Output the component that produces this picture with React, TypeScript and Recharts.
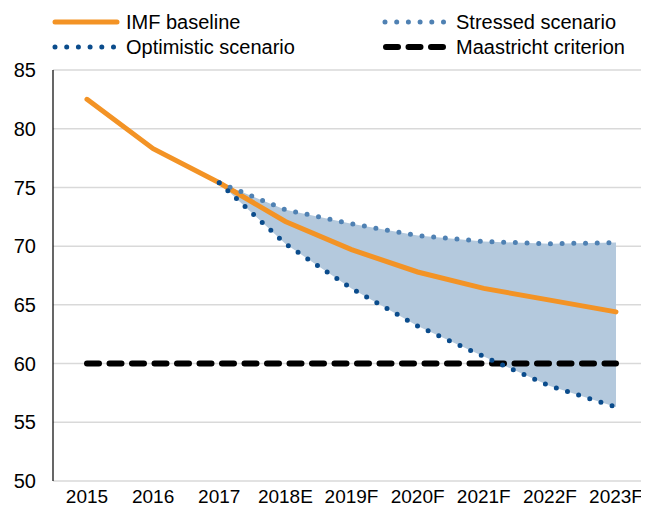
import React from "react";
import {
  ComposedChart,
  Line,
  Area,
  XAxis,
  YAxis,
  CartesianGrid,
} from "recharts";

const categories = ["2015", "2016", "2017", "2018E", "2019F", "2020F", "2021F", "2022F", "2023F"];
const imfBaseline = [82.5, 78.3, 75.4, 72.1, 69.7, 67.8, 66.4, 65.4, 64.4];
const stressed = [null, null, 75.4, 73.1, 71.9, 70.9, 70.4, 70.2, 70.3];
const optimistic = [null, null, 75.4, 70.2, 66.4, 63.2, 60.6, 58.1, 56.3];
const maastricht = [60, 60, 60, 60, 60, 60, 60, 60, 60];
const yTicks = [50, 55, 60, 65, 70, 75, 80, 85];

const legendItems = [
  { name: "IMF baseline", kind: "imf" },
  { name: "Stressed scenario", kind: "stressed" },
  { name: "Optimistic scenario", kind: "optimistic" },
  { name: "Maastricht criterion", kind: "maastricht" },
];

const data = categories.map((c, i) => ({
  cat: c,
  imf: imfBaseline[i],
  stressed: stressed[i],
  optimistic: optimistic[i],
  maastricht: maastricht[i],
  band:
    stressed[i] != null && optimistic[i] != null
      ? [optimistic[i], stressed[i]]
      : null,
}));

const ORANGE = "#F39325";
const STRESS = "#4F81B3";
const OPT = "#0B4C8C";
const FILL = "#B4C9DD";
const FONT = "'Liberation Sans', Arial, sans-serif";

function LegendSample({ kind }: { kind: string }) {
  if (kind === "imf")
    return <line x1={3} y1={8} x2={65} y2={8} stroke={ORANGE} strokeWidth={5} strokeLinecap="round" />;
  if (kind === "stressed")
    return <line x1={3} y1={8} x2={62} y2={8} stroke={STRESS} strokeWidth={5} strokeLinecap="round" strokeDasharray="0 11.7" />;
  if (kind === "optimistic")
    return <line x1={3} y1={8} x2={62} y2={8} stroke={OPT} strokeWidth={5} strokeLinecap="round" strokeDasharray="0 11.7" />;
  return <line x1={4} y1={8} x2={64} y2={8} stroke="#000" strokeWidth={6} strokeLinecap="round" strokeDasharray="12 10.5" />;
}

function TopLegend() {
  const pos = [
    { x: 44, y: 14 },
    { x: 374, y: 14 },
    { x: 44, y: 39 },
    { x: 374, y: 39 },
  ];
  return (
    <div style={{ position: "absolute", left: 0, top: 0, width: 641, height: 60, pointerEvents: "none" }}>
      {legendItems.map((it, i) => (
        <div
          key={it.name}
          style={{
            position: "absolute",
            left: pos[i].x,
            top: pos[i].y - 8,
            display: "flex",
            alignItems: "center",
            fontFamily: FONT,
            fontSize: 20,
            color: "#000",
            lineHeight: "16px",
            whiteSpace: "nowrap",
          }}
        >
          <svg width={70} height={16} style={{ marginRight: 4 }}>
            <LegendSample kind={it.kind} />
          </svg>
          <span>{it.name}</span>
        </div>
      ))}
    </div>
  );
}

export default function App() {
  return (
    <div style={{ position: "relative", width: 641, height: 500 }}>
      <ComposedChart
        width={641}
        height={500}
        data={data}
        margin={{ top: 62, right: 0, bottom: 0, left: 0 }}
      >
        <CartesianGrid vertical={false} stroke="#D9D9D9" strokeWidth={1.5} />
        <XAxis
          dataKey="cat"
          scale="point"
          padding={{ left: 34, right: 33 }}
          axisLine={false}
          tickLine={false}
          tickSize={0}
          tickMargin={9}
          height={27}
          interval={0}
          tick={{ fill: "#000", fontSize: 19, fontFamily: FONT }}
        />
        <YAxis
          domain={[50, 85]}
          ticks={yTicks}
          interval={0}
          width={45}
          axisLine={{ stroke: "#000", strokeWidth: 1.2 }}
          tickLine={false}
          tickSize={0}
          tickMargin={17}
          tick={{ fill: "#000", fontSize: 20, fontFamily: FONT }}
        />
        <Area
          dataKey="band"
          type="linear"
          stroke="none"
          fill={FILL}
          fillOpacity={1}
          isAnimationActive={false}
          connectNulls={false}
          activeDot={false}
        />
        <Line
          dataKey="imf"
          type="linear"
          stroke={ORANGE}
          strokeWidth={5}
          strokeLinecap="round"
          dot={false}
          activeDot={false}
          isAnimationActive={false}
        />
        <Line
          dataKey="maastricht"
          type="linear"
          stroke="#000"
          strokeWidth={6}
          strokeLinecap="round"
          strokeDasharray="12 10.5"
          dot={false}
          activeDot={false}
          isAnimationActive={false}
        />
        <Line
          dataKey="stressed"
          type="linear"
          stroke={STRESS}
          strokeWidth={5}
          strokeLinecap="round"
          strokeDasharray="0 11.7"
          dot={false}
          activeDot={false}
          isAnimationActive={false}
        />
        <Line
          dataKey="optimistic"
          type="linear"
          stroke={OPT}
          strokeWidth={5}
          strokeLinecap="round"
          strokeDasharray="0 11.7"
          dot={false}
          activeDot={false}
          isAnimationActive={false}
        />
      </ComposedChart>
      <TopLegend />
    </div>
  );
}
